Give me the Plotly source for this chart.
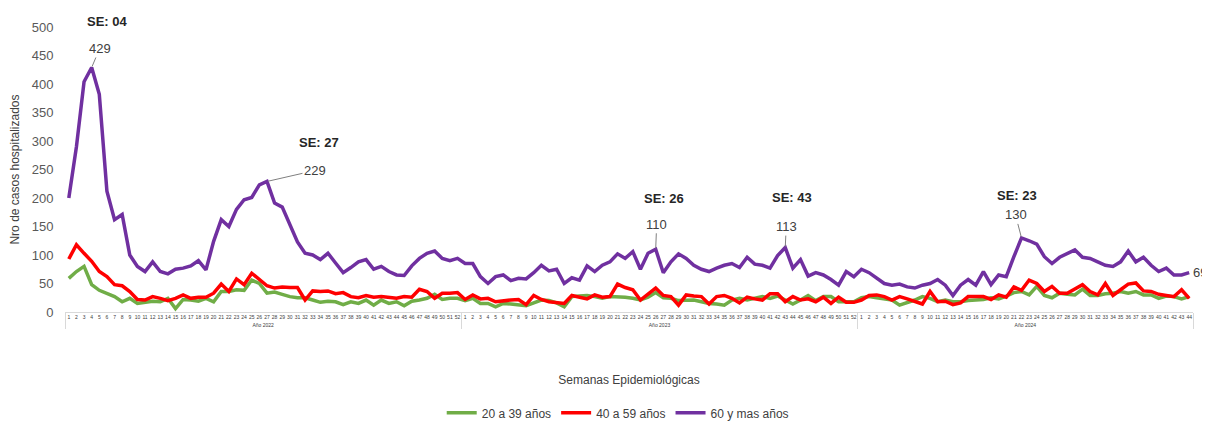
import plotly.graph_objects as go

years = ["Año 2022", "Año 2023", "Año 2024"]
weeks_per_year = [52, 52, 44]

g20_39 = [
    # 2022
    59, 71, 80, 48, 38, 33, 27, 18, 24, 15,
    17, 19, 18, 24, 6, 22, 21, 19, 24, 18,
    36, 36, 39, 38, 56, 50, 33, 35, 31, 27,
    25, 25, 21, 17, 19, 18, 13, 18, 15, 21,
    12, 21, 15, 18, 11, 19, 21, 24, 31, 22,
    24, 24,
    # 2023
    20, 24, 15, 15, 9, 15, 14, 12, 11, 16,
    21, 20, 16, 9, 27, 28, 29, 27, 24, 27,
    27, 26, 24, 21, 26, 34, 25, 24, 20, 21,
    21, 18, 15, 14, 12, 21, 24, 21, 24, 27,
    24, 28, 21, 14, 21, 29, 20, 27, 27, 18,
    18, 18,
    # 2024
    25, 27, 25, 23, 21, 12, 16, 21, 27, 24,
    18, 21, 18, 18, 20, 21, 22, 25, 23, 28,
    34, 36, 30, 45, 29, 25, 33, 31, 30, 40,
    29, 29, 32, 33, 36, 33, 36, 30, 30, 24,
    28, 27, 23, 27,
]

g40_59 = [
    # 2022
    93, 118, 103, 89, 71, 62, 48, 46, 36, 22,
    21, 27, 24, 20, 24, 30, 24, 26, 26, 33,
    49, 36, 58, 48, 68, 57, 46, 42, 44, 43,
    43, 21, 37, 36, 37, 32, 34, 27, 25, 29,
    26, 27, 25, 24, 27, 26, 40, 36, 24, 33,
    33, 34,
    # 2023
    22, 30, 23, 24, 18, 20, 21, 22, 13, 29,
    22, 18, 17, 15, 29, 26, 23, 30, 26, 27,
    49, 43, 39, 21, 31, 42, 29, 27, 12, 30,
    28, 27, 14, 27, 29, 24, 16, 26, 23, 21,
    32, 32, 18, 27, 21, 23, 18, 26, 15, 26,
    17, 17,
    # 2024
    21, 29, 30, 27, 21, 27, 23, 18, 14, 36,
    18, 19, 13, 16, 27, 27, 27, 22, 30, 26,
    44, 38, 56, 50, 36, 45, 33, 33, 40, 48,
    36, 30, 50, 29, 39, 49, 51, 37, 36, 31,
    29, 27, 39, 24,
]

g60_plus = [
    # 2022
    200, 290, 404, 429, 382, 212, 162, 171, 100, 80,
    71, 88, 71, 67, 75, 77, 81, 90, 74, 124,
    162, 150, 180, 197, 201, 223, 229, 191, 184, 153,
    123, 103, 100, 92, 103, 86, 69, 78, 88, 92,
    75, 80, 71, 65, 64, 81, 94, 103, 107, 94,
    90, 94,
    # 2023
    85, 85, 62, 50, 62, 65, 55, 59, 58, 69,
    82, 72, 75, 50, 60, 56, 81, 71, 82, 88,
    102, 94, 106, 75, 103, 110, 69, 88, 102, 94,
    82, 75, 71, 77, 82, 85, 78, 96, 84, 82,
    77, 99, 113, 77, 92, 63, 69, 65, 57, 47,
    71, 62,
    # 2024
    75, 69, 59, 50, 47, 49, 44, 42, 47, 50,
    57, 47, 29, 47, 57, 47, 71, 48, 65, 62,
    97, 130, 125, 119, 97, 85, 96, 103, 109, 96,
    94, 88, 82, 80, 88, 107, 88, 96, 82, 71,
    77, 65, 65, 69,
]

# highlighted peaks: (global index into series, SE label, text offsets)
peak_idx = [3, 26, 52 + 25, 52 + 42, 104 + 21]
peak_se = ["SE: 04", "SE: 27", "SE: 26", "SE: 43", "SE: 23"]
val_off = [(8, -19), (48, -11), (1, -25), (1, -21), (-6, -23)]
se_off = [(16, -46), (52, -39), (8, -51), (7, -50), (-5, -42)]

year_level = []
week_level = []
for y, n in zip(years, weeks_per_year):
    for w in range(1, n + 1):
        year_level.append(y)
        week_level.append(str(w))
x_mc = [year_level, week_level]

FONT = "Liberation Sans"
fig = go.Figure()
for name, vals, col in [
    ("20 a 39 años", g20_39, "#70AD47"),
    ("40 a 59 años", g40_59, "#FF0000"),
    ("60 y mas años", g60_plus, "#7030A0"),
]:
    fig.add_trace(go.Scatter(x=x_mc, y=vals, mode="lines", name=name,
                             line=dict(color=col, width=3.5)))

n_total = len(g60_plus)
for i, se, vo, so in zip(peak_idx, peak_se, val_off, se_off):
    v = g60_plus[i]
    fig.add_annotation(x=i, y=v, xref="x", yref="y", text=str(v),
                       showarrow=True, arrowhead=0, arrowwidth=1, arrowcolor="#7F7F7F",
                       ax=vo[0], ay=vo[1], standoff=1,
                       font=dict(family=FONT, size=13, color="#404040"))
    fig.add_annotation(x=i, y=v, xref="x", yref="y", text="<b>" + se + "</b>",
                       showarrow=False, xshift=so[0], yshift=-so[1],
                       font=dict(family=FONT, size=13, color="#262626"))
fig.add_annotation(x=n_total - 1, y=g60_plus[-1], xref="x", yref="y",
                   text=str(g60_plus[-1]), showarrow=False, xanchor="left",
                   xshift=2, font=dict(family=FONT, size=13, color="#404040"))

# page body has an 8px default margin, so the figure is sized 8px smaller
fig.update_layout(
    width=1202, height=413,
    margin=dict(l=57, r=17, t=19, b=109, autoexpand=False),
    paper_bgcolor="white", plot_bgcolor="white",
    font=dict(family=FONT, color="#595959"),
    showlegend=True,
    legend=dict(orientation="h", x=0.49, xanchor="center", y=-0.303, yanchor="top",
                font=dict(family=FONT, size=12, color="#404040"), itemwidth=30),
    xaxis=dict(type="multicategory", range=[-0.5, n_total - 0.5], automargin=False,
               showline=True, linecolor="#D9D9D9", linewidth=1,
               showgrid=False, zeroline=False, tickangle=0,
               tickfont=dict(family=FONT, size=5, color="#404040"),
               showdividers=True, dividercolor="#D9D9D9", dividerwidth=1,
               title=dict(text="Semanas Epidemiológicas", standoff=48,
                          font=dict(family=FONT, size=12, color="#404040"))),
    yaxis=dict(range=[0, 500], dtick=50, showgrid=False, zeroline=False, automargin=False,
               showline=False, ticks="outside", ticklen=8, tickcolor="rgba(0,0,0,0)",
               tickfont=dict(family=FONT, size=13, color="#595959"),
               title=dict(text="Nro de casos hospitalizados", standoff=10,
                          font=dict(family=FONT, size=12, color="#404040"))),
)

fig.write_html("out.html")
